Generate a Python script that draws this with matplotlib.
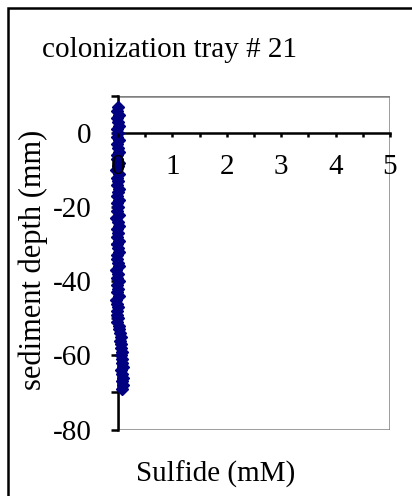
import matplotlib
matplotlib.use("Agg")
import matplotlib.pyplot as plt
from matplotlib.patches import Rectangle
from matplotlib.ticker import FixedLocator, FuncFormatter

plt.rcParams['font.family'] = ['Liberation Serif', 'DejaVu Serif']

# sulfide profile, tray 21 (depth in mm, sulfide in mM)
depth = [7, 6, 5, 4, 3, 2, 1, 0, -1, -2,
         -3, -4, -5, -6, -7, -8, -9, -10, -11, -12,
         -13, -14, -15, -16, -17, -18, -19, -20, -21, -22,
         -23, -24, -25, -26, -27, -28, -29, -30, -31, -32,
         -33, -34, -35, -36, -37, -38, -39, -40, -41, -42,
         -43, -44, -45, -46, -47, -48, -49, -50, -51, -52,
         -53, -54, -55, -56, -57, -58, -59, -60, -61, -62,
         -63, -64, -65, -66, -67, -68, -69]
sulfide = [0.00, -0.01, 0.01, -0.02, 0.00, 0.01, -0.01, 0.00, -0.02, 0.01,
           -0.01, 0.00, 0.02, -0.02, -0.01, 0.01, 0.00, -0.03, 0.01, -0.01,
           0.00, -0.02, 0.01, 0.00, -0.01, 0.02, -0.02, 0.00, -0.01, 0.01,
           -0.03, 0.00, 0.01, -0.01, 0.00, -0.02, 0.01, -0.01, 0.00, 0.02,
           -0.02, -0.01, 0.00, 0.01, -0.03, 0.00, -0.01, 0.01, -0.02, 0.00,
           -0.01, 0.01, -0.03, -0.02, 0.00, -0.01, -0.02, 0.00, -0.01, 0.01,
           0.02, 0.03, 0.05, 0.04, 0.06, 0.05, 0.07, 0.06, 0.08, 0.07,
           0.09, 0.06, 0.08, 0.10, 0.07, 0.09, 0.08]

x_ticks = [0, 0.5, 1, 1.5, 2, 2.5, 3, 3.5, 4, 4.5, 5]
y_ticks = [-80, -70, -60, -50, -40, -30, -20, -10, 0, 10]

fig = plt.figure(figsize=(4.12, 4.96), dpi=100)
ax = fig.add_axes([118 / 412, 1 - 429.5 / 496, 272 / 412, 333.5 / 496])

ax.plot(sulfide, depth, linestyle='none', marker='D', markersize=6,
        color='#000080', markeredgecolor='#000080', clip_on=False, zorder=5)

ax.set_xlim(0, 5)
ax.set_ylim(-80, 10)

# grey plot frame, black axes through the origin
ax.add_patch(Rectangle((0, 0), 1, 1, transform=ax.transAxes, fill=False,
                       edgecolor='#808080', linewidth=1.8, zorder=1))
ax.spines['top'].set_visible(False)
ax.spines['right'].set_visible(False)
ax.spines['bottom'].set_position(('data', 0))
ax.spines['bottom'].set_linewidth(1.8)
ax.spines['left'].set_linewidth(1.8)
ax.spines['bottom'].set_zorder(3)
ax.spines['left'].set_zorder(3)

ax.xaxis.set_major_locator(FixedLocator(x_ticks))
ax.xaxis.set_major_formatter(FuncFormatter(
    lambda v, p: f"{int(v)}" if float(v).is_integer() else ""))
ax.yaxis.set_major_locator(FixedLocator(y_ticks))
ax.yaxis.set_major_formatter(FuncFormatter(
    lambda v, p: f"{int(v)}" if int(v) % 20 == 0 and v <= 0 else ""))

ax.tick_params(axis='x', direction='out', length=3, width=1.8, pad=12,
               labelsize=21)
ax.tick_params(axis='y', direction='out', length=5, width=1.8, pad=14,
               labelsize=21)
# x labels sit on top of the points near zero
ax.xaxis.set_zorder(6)

fig.text(42 / 412, 1 - 50 / 496, "colonization tray # 21", fontsize=21,
         ha='left', va='center')
fig.text(216 / 412, 1 - 474 / 496, "Sulfide (mM)", fontsize=21,
         ha='center', va='center')
fig.text(33 / 412, 1 - 260 / 496, "sediment depth (mm)", fontsize=22,
         ha='center', va='center', rotation=90)

# outer chart border
fig.patches.append(Rectangle((8 / 412, -0.1), 1.2, 1.1 - 8 / 496,
                             transform=fig.transFigure, fill=False,
                             edgecolor='black', linewidth=1.8))

fig.savefig('out.png', dpi=100)
